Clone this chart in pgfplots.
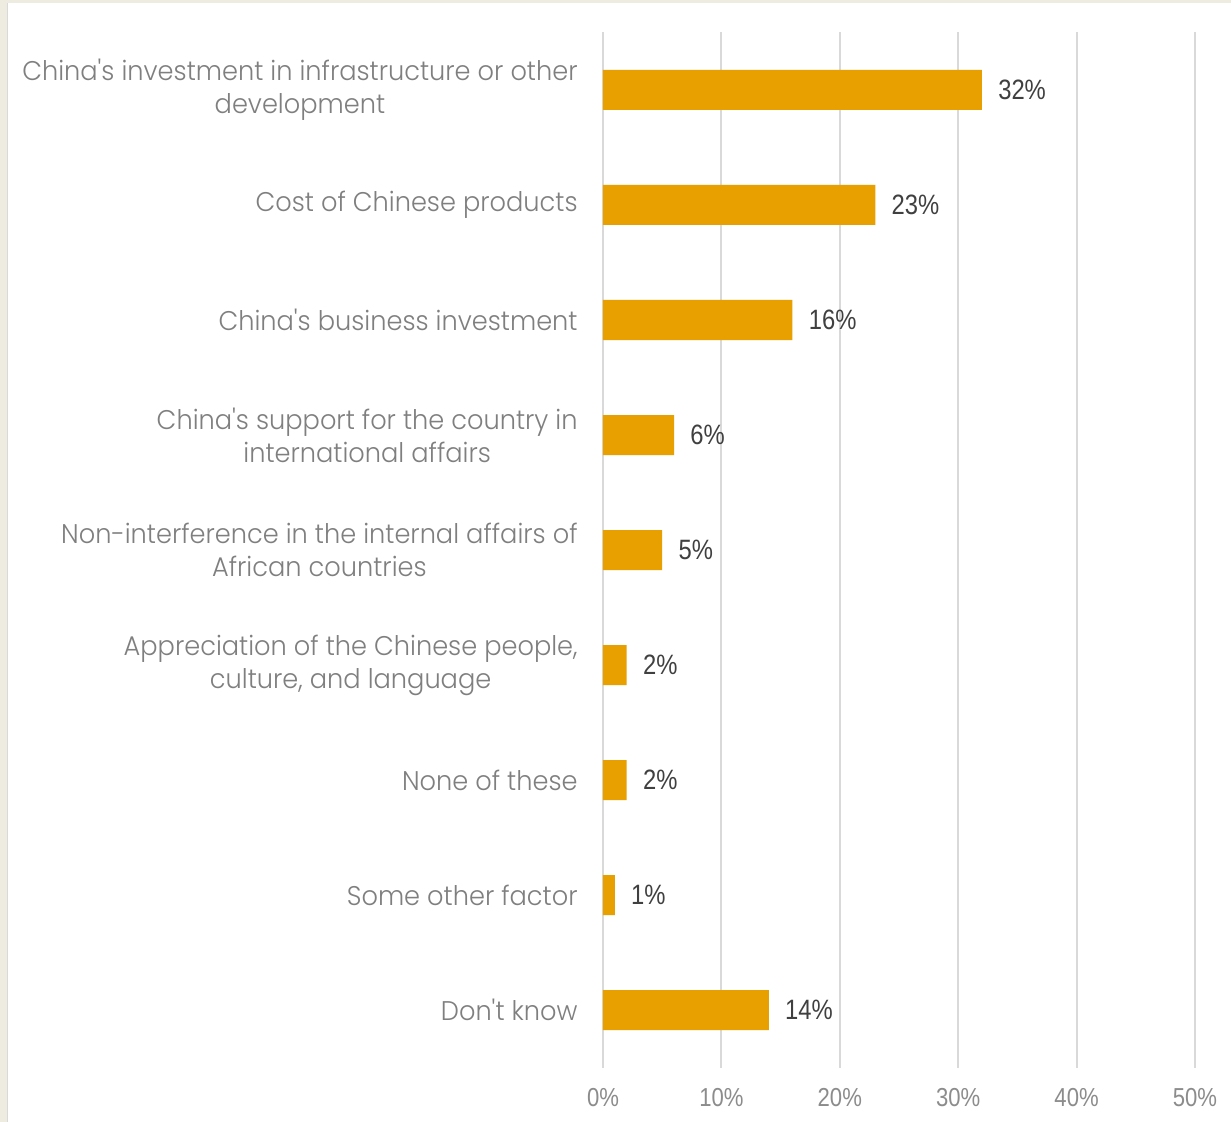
\documentclass[border=0pt]{standalone}
\usepackage{fontspec}
\setmainfont{Poppins Light}[Ligatures=TeXOff, FakeStretch=0.95]
\newfontfamily\numfont{Liberation Sans}[FakeStretch=0.85]
\usepackage{pgfplots}
\pgfplotsset{compat=1.18}
\definecolor{barc}{HTML}{E8A000}
\definecolor{gridc}{HTML}{D9D9D9}
\definecolor{catc}{HTML}{7F7F7F}
\definecolor{valc}{HTML}{404040}
\definecolor{tickc}{HTML}{8C8C8C}
\definecolor{beige}{HTML}{EEEBE0}
\begin{document}
\begin{tikzpicture}
\useasboundingbox (-301.5pt,-27.25pt) rectangle (314pt,533.75pt);
\fill[beige] (-301.5pt,-27.25pt) rectangle (314pt,533.75pt);
\fill[white] (-297.5pt,-27.25pt) rectangle (314pt,532.25pt);
\draw[gridc, line width=0.6pt] (-297.8pt,-27.25pt) -- (-297.8pt,532.25pt);
\begin{axis}[
  at={(0pt,0pt)}, anchor=south west,
  scale only axis,
  width=296pt, height=517.5pt,
  xbar, bar width=20pt, bar shift=0pt,
  xmin=0, xmax=50,
  ymin=-0.5, ymax=8.5,
  y dir=reverse,
  xtick={0,10,20,30,40,50},
  ytick={0,1,2,3,4,5,6,7,8},
  yticklabels={
    {China's investment in infrastructure or other\\development},
    {Cost of Chinese products},
    {China's business investment},
    {China's support for the country in\\international affairs},
    {Non-interference in the internal affairs of\\African countries},
    {Appreciation of the Chinese people,\\culture, and language},
    {None of these},
    {Some other factor},
    {Don't know}},
  xticklabel={\pgfmathprintnumber[assume math mode=true]{\tick}\%},
  xticklabel style={font=\numfont\fontsize{13}{15}\selectfont, text=tickc, inner sep=0pt, yshift=-10pt},
  yticklabel style={font=\fontsize{13.5}{16.5}\selectfont, text=catc, align=center, anchor=east, inner sep=0pt, xshift=-12.5pt},
  major tick length=0pt,
  axis line style={draw=none},
  xmajorgrids, major grid style={gridc, line width=1pt},
  nodes near coords={\pgfmathprintnumber[assume math mode=true]{\pgfplotspointmeta}\%},
  point meta=x,
  nodes near coords style={font=\numfont\fontsize{14}{16}\selectfont, text=valc, anchor=west, inner sep=0pt, xshift=8pt},
  clip=false,
]
\addplot[fill=barc, draw=none] coordinates {
  (32,0) (23,1) (16,2) (6,3) (5,4) (2,5) (2,6) (1,7) (14,8)};
\end{axis}
\end{tikzpicture}
\end{document}
